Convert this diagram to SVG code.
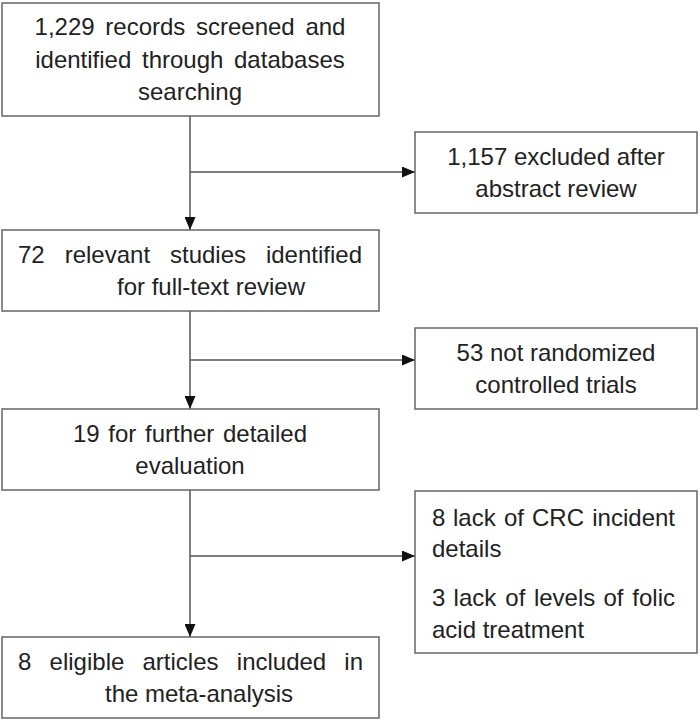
<svg xmlns="http://www.w3.org/2000/svg" width="700" height="721" viewBox="0 0 700 721">
<style>
.box{fill:#fff;stroke:#666;stroke-width:1.5}
.t{font-family:"Liberation Sans",Arial,sans-serif;font-size:24px;fill:#222}
.m{text-anchor:middle}
.e{text-anchor:end}
.c{fill:none;stroke:#555;stroke-width:1.5}
</style>
<defs>
<marker id="ah" viewBox="0 0 13 11" refX="13" refY="5.5" markerWidth="13" markerHeight="11" markerUnits="userSpaceOnUse" orient="auto">
<path d="M0,0 L13,5.5 L0,11 Z" fill="#111"/>
</marker>
</defs>
<rect width="700" height="721" fill="#fff"/>
<g id="connectors">
<path class="c" d="M190,116 V230" marker-end="url(#ah)"/>
<path class="c" d="M190,172 H415" marker-end="url(#ah)"/>
<path class="c" d="M190,311 V409" marker-end="url(#ah)"/>
<path class="c" d="M190,360 H415" marker-end="url(#ah)"/>
<path class="c" d="M190,490 V637" marker-end="url(#ah)"/>
<path class="c" d="M190,556 H415" marker-end="url(#ah)"/>
</g>
<g id="n1">
<rect class="box" x="2" y="3" width="377" height="113"/>
<text class="t m" x="190" y="35" word-spacing="4">1,229 records screened and</text>
<text class="t m" x="190" y="68" word-spacing="4">identified through databases</text>
<text class="t m" x="190" y="100">searching</text>
</g>
<g id="n2">
<rect class="box" x="415" y="132" width="282" height="81"/>
<text class="t m" x="556" y="165">1,157 excluded after</text>
<text class="t m" x="556" y="197">abstract review</text>
</g>
<g id="n3">
<rect class="box" x="2" y="230" width="377" height="81"/>
<text class="t" y="263"><tspan x="18">72</tspan> <tspan x="64.7">relevant</tspan> <tspan x="170">studies</tspan> <tspan x="362" class="e">identified</tspan></text>
<text class="t" x="117" y="295">for full-text review</text>
</g>
<g id="n4">
<rect class="box" x="415" y="328" width="282" height="81"/>
<text class="t m" x="556" y="361">53 not randomized</text>
<text class="t m" x="556" y="393">controlled trials</text>
</g>
<g id="n5">
<rect class="box" x="2" y="409" width="377" height="81"/>
<text class="t m" x="190" y="442" word-spacing="2">19 for further detailed</text>
<text class="t m" x="190" y="474">evaluation</text>
</g>
<g id="n6">
<rect class="box" x="415" y="491" width="282" height="162"/>
<text class="t" y="526"><tspan x="432">8</tspan> <tspan x="453">lack</tspan> <tspan x="504">of</tspan> <tspan x="532">CRC</tspan> <tspan x="675" class="e">incident</tspan></text>
<text class="t" x="432" y="557">details</text>
<text class="t" y="606"><tspan x="432">3</tspan> <tspan x="453.6">lack</tspan> <tspan x="505.3">of</tspan> <tspan x="533.9">levels</tspan> <tspan x="603.5">of</tspan> <tspan x="675" class="e">folic</tspan></text>
<text class="t" x="432" y="638">acid treatment</text>
</g>
<g id="n7">
<rect class="box" x="2" y="637" width="377" height="81"/>
<text class="t" y="670"><tspan x="18">8</tspan> <tspan x="49.6">eligible</tspan> <tspan x="142.5">articles</tspan> <tspan x="236.8">included</tspan> <tspan x="363" class="e">in</tspan></text>
<text class="t" x="105" y="702">the meta-analysis</text>
</g>
</svg>
